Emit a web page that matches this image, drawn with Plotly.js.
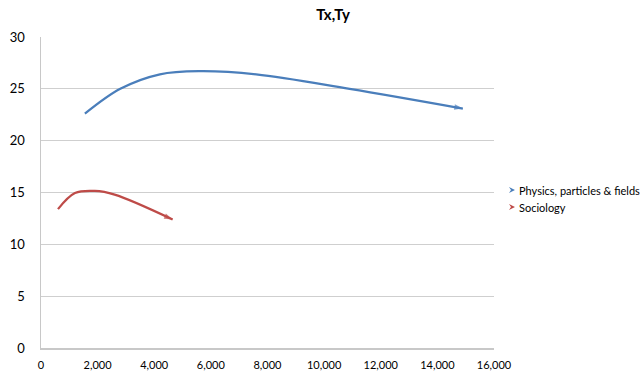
<!DOCTYPE html>
<html>
<head>
<meta charset="utf-8">
<script src="https://cdn.plot.ly/plotly-3.0.1.min.js"></script>
<style>
  html, body { margin: 0; padding: 0; background: #fff; }
  #chart { width: 641px; height: 372px; }
</style>
</head>
<body>
<div id="chart"></div>
<script>
// Series: Tx (x) against Ty (y), smoothed lines ending in arrowheads
const seriesNames = ["Physics, particles & fields", "Sociology"];
const physicsX = [1550, 2800, 4200, 5600, 7600, 10900, 14900];
const physicsY = [22.6, 25.0, 26.4, 26.7, 26.4, 25.0, 23.1];
const sociologyX = [600, 1200, 1900, 2600, 4650];
const sociologyY = [13.4, 14.95, 15.15, 14.8, 12.4];
const xTickVals = [0, 2000, 4000, 6000, 8000, 10000, 12000, 14000, 16000];
const yTickVals = [0, 5, 10, 15, 20, 25, 30];
const colors = ["#4a7ebb", "#be4b48"];

const FONT = "Lato, 'Open Sans', sans-serif";

// plot area in pixels, used to place the legend in paper coordinates
const PLOT = { left: 41, right: 494, top: 37, bottom: 348 };
const px = v => (v - PLOT.left) / (PLOT.right - PLOT.left);
const py = v => 1 - (v - PLOT.top) / (PLOT.bottom - PLOT.top);

// arrowhead only on the last point of each line
function endMarker(n, color) {
  const sizes = new Array(n).fill(0);
  sizes[n - 1] = 9;
  return { symbol: "arrow", angleref: "previous", size: sizes, color: color, line: { width: 0 } };
}

const traces = [
  { x: physicsX, y: physicsY },
  { x: sociologyX, y: sociologyY }
].map((t, i) => ({
  x: t.x, y: t.y, name: seriesNames[i], type: "scatter", mode: "lines+markers",
  line: { color: colors[i], width: 2.25, shape: "spline", smoothing: 1.0 },
  marker: endMarker(t.x.length, colors[i]),
  cliponaxis: false, showlegend: false, hoverinfo: "x+y"
}));

// legend: small arrowhead glyph followed by the series name
const legendTop = 190, legendStep = 17, legendX = 512;
const annotations = seriesNames.map((name, i) => ({
  xref: "paper", yref: "paper",
  x: px(legendX + 5), y: py(legendTop + i * legendStep),
  xanchor: "left", yanchor: "middle", showarrow: false,
  text: name, font: { family: FONT, size: 11, color: "#000" }
}));
const shapes = seriesNames.map((name, i) => {
  const cy = legendTop + i * legendStep;
  return {
    type: "path", xref: "paper", yref: "paper",
    path: "M" + px(legendX - 3) + "," + py(cy - 3) +
          " L" + px(legendX + 3) + "," + py(cy) +
          " L" + px(legendX - 3) + "," + py(cy + 3) +
          " L" + px(legendX - 1) + "," + py(cy) + " Z",
    fillcolor: colors[i], line: { width: 0 }
  };
});

const layout = {
  width: 641, height: 372,
  margin: { l: 41, r: 147, t: 37, b: 24, pad: 0 },
  paper_bgcolor: "#fff", plot_bgcolor: "#fff",
  font: { family: FONT, color: "#000" },
  title: {
    text: "Tx,Ty", x: 333 / 641, xanchor: "center", y: 1 - 15 / 372, yanchor: "middle",
    font: { family: FONT, size: 15, weight: "bold", color: "#000" }
  },
  xaxis: {
    range: [0, 16000], tickvals: xTickVals, tickformat: ",d",
    showgrid: false, zeroline: false, showline: true, linecolor: "#c8c8c8", linewidth: 1.5,
    ticks: "outside", ticklen: 6, tickcolor: "rgba(0,0,0,0)",
    tickfont: { family: FONT, size: 11, color: "#000" }, fixedrange: true
  },
  yaxis: {
    range: [0, 30], tickvals: yTickVals,
    showgrid: true, gridcolor: "#cfcfcf", gridwidth: 1.2, zeroline: false,
    showline: true, linecolor: "#c8c8c8", linewidth: 1.5,
    ticks: "outside", ticklen: 12, tickcolor: "rgba(0,0,0,0)",
    tickfont: { family: FONT, size: 13, color: "#000" }, fixedrange: true
  },
  annotations: annotations,
  shapes: shapes,
  showlegend: false
};

Plotly.newPlot("chart", traces, layout, { staticPlot: true, displayModeBar: false });
</script>
</body>
</html>
